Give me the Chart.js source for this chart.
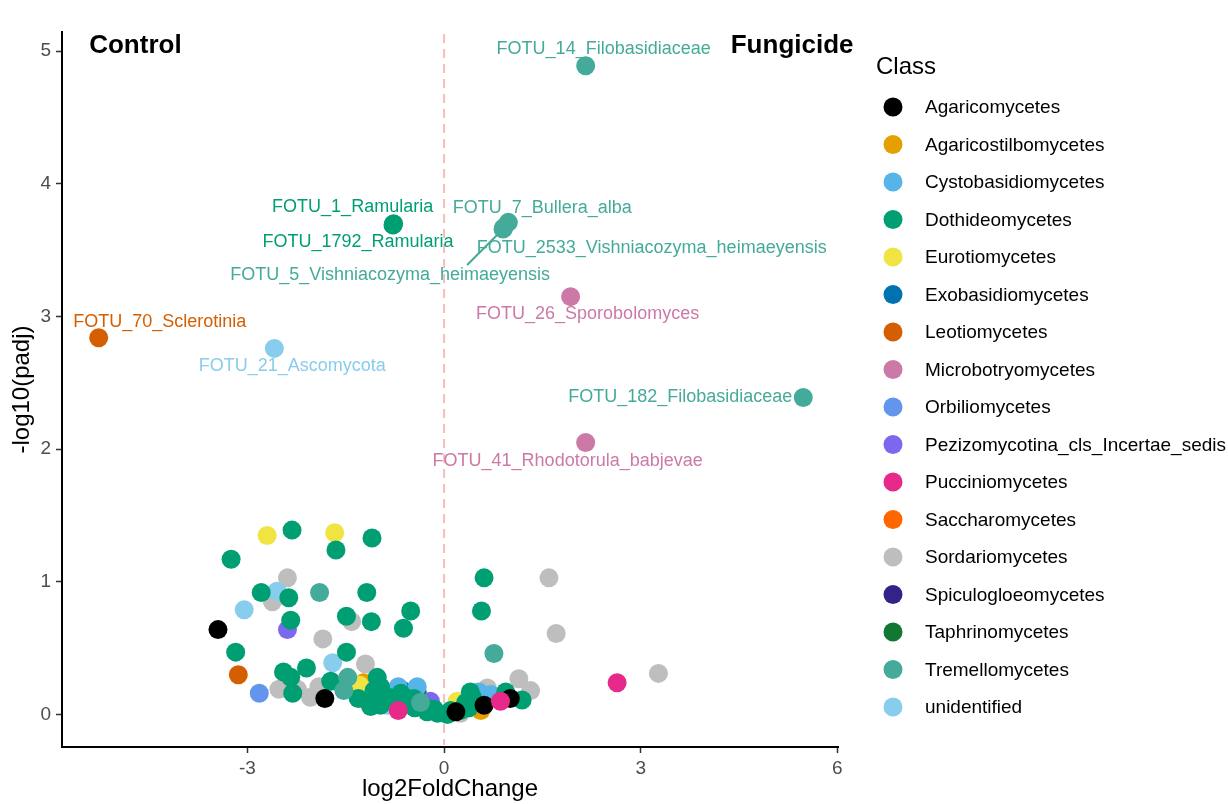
<!DOCTYPE html>
<html>
<head>
<meta charset="utf-8">
<title>Volcano plot - Control vs Fungicide</title>
<script src="https://cdn.jsdelivr.net/npm/chart.js@4.4.1/dist/chart.umd.min.js"></script>
<style>
  html, body { margin: 0; padding: 0; background: #fff; }
</style>
</head>
<body>
<canvas id="volcano" width="1228" height="804"></canvas>
<script>
// fungal classes and their colours (legend order)
const classNames = [
  'Agaricomycetes', 'Agaricostilbomycetes', 'Cystobasidiomycetes', 'Dothideomycetes',
  'Eurotiomycetes', 'Exobasidiomycetes', 'Leotiomycetes', 'Microbotryomycetes',
  'Orbiliomycetes', 'Pezizomycotina_cls_Incertae_sedis', 'Pucciniomycetes', 'Saccharomycetes',
  'Sordariomycetes', 'Spiculogloeomycetes', 'Taphrinomycetes', 'Tremellomycetes', 'unidentified'
];
const classColors = [
  '#000000', '#E69F00', '#56B4E9', '#009E73',
  '#F0E442', '#0072B2', '#D55E00', '#CC79A7',
  '#6495ED', '#7B68EE', '#E7298A', '#FF6600',
  '#BEBEBE', '#332288', '#117733', '#44AA99', '#88CCEE'
];

// all OTUs : log2 fold change, -log10(padj), class index
const otuLfc = [
  -2.70, -2.32, -1.67, -1.65, -1.10, -3.25, -2.39, -2.55, -2.62, -2.79,
  -2.37, -1.90, -1.18, -3.05, -0.51, -2.34, -2.39, -1.41, -1.49, -1.11,
  -0.62, -3.45, -1.85, -3.18, -1.49, -1.70, -1.20, -3.14, -2.45, -2.10,
  -2.82, -2.52, -2.24, -2.04, -1.91, -1.82, -2.34, -2.31, -1.47, -1.53,
  -1.29, -1.17, -1.31, -1.02, -0.97, -1.07, -0.87, -0.70, -0.41, -0.70,
  -0.66, -0.41, -0.36, -0.21, -0.54, -0.26, -0.10, 0.05, 0.18, -0.97,
  -1.73, -1.23, -1.12, -0.99, -0.46, 0.20, 0.25, 0.40, 0.38, 0.53,
  0.61, 0.56, 0.66, 1.14, 1.32, 1.01, 0.86, 1.19, 0.94, 0.76,
  0.61, 1.60, 0.57, 1.71, 2.64, 3.27, 0.25, -0.63, 0.48, 0.43,
  0.40, -0.45, -0.30, -0.85, -0.15, 0.10, 0.33, -0.58, 0.72
];
const otuPadj = [
  1.35, 1.39, 1.37, 1.24, 1.33, 1.17, 1.03, 0.93, 0.85, 0.92,
  0.88, 0.92, 0.92, 0.79, 0.78, 0.71, 0.64, 0.70, 0.74, 0.70,
  0.65, 0.64, 0.57, 0.47, 0.47, 0.39, 0.38, 0.30, 0.32, 0.35,
  0.16, 0.19, 0.19, 0.13, 0.21, 0.12, 0.28, 0.16, 0.28, 0.18,
  0.22, 0.10, 0.12, 0.28, 0.21, 0.18, 0.07, 0.21, 0.21, 0.03,
  0.16, 0.17, 0.09, 0.10, 0.08, 0.02, 0.01, 0.00, 0.02, 0.07,
  0.25, 0.24, 0.06, 0.11, 0.12, 0.10, 0.01, 0.12, 0.05, 0.17,
  0.07, 0.03, 0.20, 0.27, 0.18, 0.12, 0.10, 0.11, 0.17, 0.46,
  1.03, 1.03, 0.78, 0.61, 0.24, 0.31, 0.03, 0.18, 0.08, 0.13,
  0.17, 0.05, 0.06, 0.13, 0.04, 0.03, 0.09, 0.12, 0.15
];
const otuClass = [
  4, 3, 4, 3, 3, 3, 12, 16, 12, 3,
  3, 15, 3, 16, 3, 3, 9, 12, 3, 3,
  3, 0, 12, 3, 3, 16, 12, 6, 3, 3,
  8, 12, 12, 12, 12, 0, 3, 3, 15, 15,
  4, 11, 3, 3, 3, 3, 16, 2, 2, 10,
  3, 14, 15, 9, 3, 3, 3, 3, 0, 3,
  3, 1, 3, 3, 3, 4, 12, 3, 3, 2,
  0, 1, 12, 12, 12, 0, 10, 3, 3, 15,
  3, 12, 3, 12, 10, 12, 3, 5, 13, 3,
  3, 3, 3, 3, 3, 3, 3, 3, 2
];

// named OTUs
const namedOtu = [
  'FOTU_14_Filobasidiaceae', 'FOTU_1_Ramularia', 'FOTU_1792_Ramularia', 'FOTU_7_Bullera_alba',
  'FOTU_2533_Vishniacozyma_heimaeyensis', 'FOTU_5_Vishniacozyma_heimaeyensis', 'FOTU_26_Sporobolomyces',
  'FOTU_70_Sclerotinia', 'FOTU_21_Ascomycota', 'FOTU_182_Filobasidiaceae', 'FOTU_41_Rhodotorula_babjevae'
];
const namedLfc = [2.16, -0.77, -0.78, 0.98, 0.91, 0.90, 1.93, -5.27, -2.59, 5.48, 2.16];
const namedPadj = [4.89, 3.70, 3.69, 3.71, 3.67, 3.66, 3.15, 2.84, 2.76, 2.39, 2.05];
const namedClass = [15, 3, 3, 15, 15, 15, 7, 6, 16, 15, 7];

const xTicks = [-3, 0, 3, 6];
const yTicks = [0, 1, 2, 3, 4, 5];

// label placement (pixels from the point), repel-style
const labelNudge = [
  [18, -17], [-41, -17], [-35, 17], [34, -14], [148, 20], [-113, 46],
  [17, 17], [61, -16], [18, 18], [-123, 0], [-18, 18]
];
// FOTU_5 gets a leader segment
const segmentFrom = { 5: [-36, 36] };

// bottom -> top stacking of classes
const stackBottomToTop = [12, 13, 5, 1, 11, 14, 2, 16, 8, 9, 6, 4, 3, 0, 10, 15, 7];

const FONT = '"Liberation Sans", Arial, Helvetica, sans-serif';
Chart.defaults.font.family = FONT;

const datasets = classNames.map((name, c) => {
  const pts = [];
  otuClass.forEach((k, i) => { if (k === c) pts.push({ x: otuLfc[i], y: otuPadj[i] }); });
  namedClass.forEach((k, i) => { if (k === c) pts.push({ x: namedLfc[i], y: namedPadj[i] }); });
  return {
    label: name,
    data: pts,
    backgroundColor: classColors[c],
    borderWidth: 0,
    pointRadius: 9.5,
    pointHoverRadius: 9.5,
    order: stackBottomToTop.length - stackBottomToTop.indexOf(c)
  };
});

// dashed line at log2FC = 0
const zeroLine = {
  id: 'zeroLine',
  beforeDatasetsDraw(chart) {
    const { ctx, chartArea, scales } = chart;
    const x = scales.x.getPixelForValue(0);
    ctx.save();
    ctx.strokeStyle = '#F6BCBC';
    ctx.lineWidth = 2;
    ctx.setLineDash([9, 6]);
    ctx.beginPath();
    ctx.moveTo(x, chartArea.top + 2);
    ctx.lineTo(x, chartArea.bottom - 2);
    ctx.stroke();
    ctx.restore();
  }
};

// OTU names next to their points
const otuLabels = {
  id: 'otuLabels',
  afterDatasetsDraw(chart) {
    const { ctx, scales } = chart;
    ctx.save();
    ctx.font = '18px ' + FONT;
    ctx.textAlign = 'center';
    ctx.textBaseline = 'middle';
    namedOtu.forEach((name, i) => {
      const px = scales.x.getPixelForValue(namedLfc[i]);
      const py = scales.y.getPixelForValue(namedPadj[i]);
      const col = classColors[namedClass[i]];
      if (segmentFrom[i]) {
        const sx = px + segmentFrom[i][0], sy = py + segmentFrom[i][1];
        const d = Math.hypot(px - sx, py - sy);
        ctx.strokeStyle = col;
        ctx.lineWidth = 2;
        ctx.beginPath();
        ctx.moveTo(sx, sy);
        ctx.lineTo(px - (px - sx) * 6 / d, py - (py - sy) * 6 / d);
        ctx.stroke();
      }
      ctx.fillStyle = col;
      ctx.fillText(name, px + labelNudge[i][0], py + labelNudge[i][1]);
    });
    ctx.restore();
  }
};

// side headings + class legend
const sideNotes = [['Control', -4.71], ['Fungicide', 5.31]];
const noteY = 5.04;
const classLegend = {
  id: 'classLegend',
  afterDraw(chart) {
    const { ctx, scales } = chart;
    ctx.save();
    ctx.textBaseline = 'middle';
    ctx.textAlign = 'center';
    ctx.fillStyle = '#000';
    ctx.font = 'bold 26px ' + FONT;
    sideNotes.forEach(([txt, xv]) => {
      ctx.fillText(txt, scales.x.getPixelForValue(xv), scales.y.getPixelForValue(noteY));
    });

    ctx.textAlign = 'left';
    ctx.font = '24px ' + FONT;
    ctx.fillText('Class', 876, 67);
    ctx.font = '19px ' + FONT;
    classNames.forEach((name, i) => {
      const y = 107 + i * 37.5;
      ctx.fillStyle = classColors[i];
      ctx.beginPath();
      ctx.arc(893, y, 9.5, 0, Math.PI * 2);
      ctx.fill();
      ctx.fillStyle = '#000';
      ctx.fillText(name, 925, y + 1);
    });
    ctx.restore();
  }
};

const axisCommon = {
  type: 'linear',
  grid: { drawOnChartArea: false, drawTicks: true, tickLength: 6, tickColor: '#333', tickWidth: 1.5 },
  border: { display: true, color: '#000', width: 2 }
};

new Chart(document.getElementById('volcano'), {
  type: 'scatter',
  data: { datasets: datasets },
  options: {
    responsive: false,
    animation: false,
    events: [],
    layout: { padding: { top: 32, right: 390, left: 0, bottom: 0 } },
    plugins: { legend: { display: false }, tooltip: { enabled: false } },
    scales: {
      x: Object.assign({}, axisCommon, {
        min: -5.83, max: 6.01,
        afterBuildTicks: s => { s.ticks = xTicks.map(v => ({ value: v })); },
        afterFit: s => { s.height = 57; },
        ticks: { color: '#4D4D4D', font: { size: 19 }, padding: 4 },
        title: { display: true, text: 'log2FoldChange', color: '#000', font: { size: 24 }, padding: { top: 0, bottom: 0 } }
      }),
      y: Object.assign({}, axisCommon, {
        min: -0.245, max: 5.145,
        afterBuildTicks: s => { s.ticks = yTicks.map(v => ({ value: v })); },
        afterFit: s => { s.width = 62; },
        ticks: { color: '#4D4D4D', font: { size: 19 }, padding: 5 },
        title: { display: true, text: '-log10(padj)', color: '#000', font: { size: 24 }, padding: { top: 8, bottom: 0 } }
      })
    }
  },
  plugins: [zeroLine, otuLabels, classLegend]
});
</script>
</body>
</html>
